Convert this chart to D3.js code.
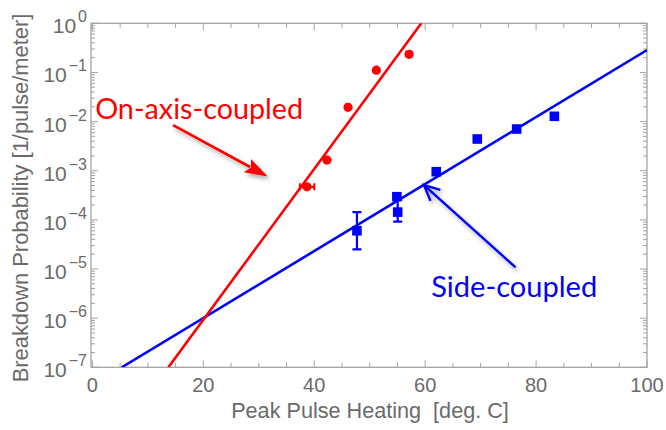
<!DOCTYPE html>
<html>
<head>
<meta charset="utf-8">
<script src="https://cdn.jsdelivr.net/npm/d3@7"></script>
<style>
  html, body { margin: 0; padding: 0; background: #ffffff; }
  svg { display: block; }
</style>
</head>
<body>
<svg id="chart" width="666" height="430"></svg>
<script>
// ---- measured breakdown rates ----
const onAxisX    = [38.7, 42.3, 46.1, 51.2, 57.1];
const onAxisY    = [4.7e-4, 1.65e-3, 1.95e-2, 0.111, 0.234];
const onAxisXErr = [1.3, 0, 0.35, 0.25, 0.45];

const sideX    = [47.7, 54.9, 55.05, 62.0, 69.4, 76.5, 83.3];
const sideY    = [6.0e-5, 2.96e-4, 1.44e-4, 9.55e-4, 4.42e-3, 7.06e-3, 1.28e-2];
const sideYLo  = [2.5e-5, null, 9.2e-5, null, null, null, null];
const sideYHi  = [1.44e-4, null, 2.55e-4, null, null, null, null];
const sideXErr = [0, 0, 0, 0, 0, 0.6, 0.6];

// exponential fits (end points)
const onAxisFitX = [13.7, 59.3];
const onAxisFitY = [1e-7, 1];
const sideFitX   = [5.3, 100];
const sideFitY   = [1e-7, 0.286];

// axes
const xTickValues = [0, 20, 40, 60, 80, 100];
const yExponents  = [0, -1, -2, -3, -4, -5, -6, -7];

const xTitle = "Peak Pulse Heating  [deg. C]";
const yTitle = "Breakdown Probability [1/pulse/meter]";

// annotations: label anchor, arrow tail and tip, in data units
const onAxisLabel = "On-axis-coupled";
const onAxisLabelPos = [0.5, 0.0111];
const onAxisArrow = [[14.55, 8.5e-3], [31.6, 7.6e-4]];
const sideLabel = "Side-coupled";
const sideLabelPos = [61.1, 2.73e-6];
const sideArrow = [[76.3, 1.08e-5], [59.8, 5.1e-4]];

// ---- layout ----
const plotLeft = 91, plotRight = 647, plotTop = 23.3, plotBottom = 367.3;
const axisGrey = "#a3a3a3", textGrey = "#6a6a6a";
const RED = "#ff0000", BLUE = "#0000ff";

const svg = d3.select("#chart");
const x = d3.scaleLinear().domain([-0.25, 100]).range([plotLeft, plotRight]);
const y = d3.scaleLog().domain([1e-7, 1]).range([plotBottom, plotTop]);

const defs = svg.append("defs");
defs.append("clipPath").attr("id", "plotClip")
  .append("rect").attr("x", plotLeft).attr("y", plotTop)
  .attr("width", plotRight - plotLeft).attr("height", plotBottom - plotTop);
const shadow = defs.append("filter").attr("id", "softShadow")
  .attr("x", "-20%").attr("y", "-20%").attr("width", "140%").attr("height", "160%");
shadow.append("feDropShadow").attr("dx", 2).attr("dy", 3)
  .attr("stdDeviation", 2.2).attr("flood-color", "#000").attr("flood-opacity", 0.35);

// ---- frame with inward ticks ----
const frame = svg.append("g");
frame.append("rect").attr("x", plotLeft).attr("y", plotTop)
  .attr("width", plotRight - plotLeft).attr("height", plotBottom - plotTop)
  .attr("fill", "none").attr("stroke", axisGrey).attr("stroke-width", 1.3);

const xMajor = d3.range(0, 101, 20);
const tickG = frame.append("g").attr("stroke", axisGrey).attr("stroke-width", 1);
d3.range(0, 101, 5).forEach(v => {
  const len = xMajor.includes(v) ? 7 : 4.5;
  const px = x(v);
  tickG.append("line").attr("x1", px).attr("x2", px).attr("y1", plotBottom).attr("y2", plotBottom - len);
  tickG.append("line").attr("x1", px).attr("x2", px).attr("y1", plotTop).attr("y2", plotTop + len);
});
for (let e = -7; e <= 0; e++) {
  const mults = e < 0 ? d3.range(1, 10) : [1];
  mults.forEach(m => {
    const v = m * Math.pow(10, e);
    const py = y(v);
    const len = m === 1 ? 7 : 4;
    tickG.append("line").attr("x1", plotLeft).attr("x2", plotLeft + len).attr("y1", py).attr("y2", py);
    tickG.append("line").attr("x1", plotRight).attr("x2", plotRight - len).attr("y1", py).attr("y2", py);
  });
}

// tick labels
const labelFont = "'Liberation Sans', Arial, sans-serif";
svg.append("g").selectAll("text").data(xTickValues).join("text")
  .attr("x", d => x(d)).attr("y", plotBottom + 25)
  .attr("text-anchor", "middle").attr("font-family", labelFont)
  .attr("font-size", 20).attr("fill", textGrey).text(d => d);

const yLab = svg.append("g").selectAll("text").data(yExponents).join("text")
  .attr("x", plotLeft - 4).attr("y", d => y(Math.pow(10, d)) + 10)
  .attr("text-anchor", "end").attr("font-family", labelFont).attr("fill", textGrey);
yLab.append("tspan").attr("font-size", 21).text("10");
yLab.append("tspan").attr("font-size", 16).attr("dx", 2).attr("dy", -11)
  .text(d => d === 0 ? "0" : "\u2212" + (-d));

// axis titles, sized to their measured span
function fitWidth(sel, target) {
  const w = sel.node().getComputedTextLength();
  sel.attr("font-size", parseFloat(sel.attr("font-size")) * target / w);
}
const xt = svg.append("text").attr("x", 370).attr("y", 418)
  .attr("text-anchor", "middle").attr("font-family", labelFont)
  .attr("font-size", 20).attr("fill", textGrey)
  .attr("xml:space", "preserve").text(xTitle);
fitWidth(xt, 278);
const yt = svg.append("text")
  .attr("transform", "translate(28,198) rotate(-90)")
  .attr("text-anchor", "middle").attr("font-family", labelFont)
  .attr("font-size", 20).attr("fill", textGrey).text(yTitle);
fitWidth(yt, 369);

// ---- fit lines ----
const plot = svg.append("g").attr("clip-path", "url(#plotClip)");
const line = d3.line().x(d => x(d[0])).y(d => y(d[1]));
plot.append("path").datum(d3.zip(sideFitX, sideFitY))
  .attr("d", line).attr("fill", "none").attr("stroke", BLUE).attr("stroke-width", 2.6);
plot.append("path").datum(d3.zip(onAxisFitX, onAxisFitY))
  .attr("d", line).attr("fill", "none").attr("stroke", RED).attr("stroke-width", 2.6);

// ---- side-coupled points ----
const side = d3.range(sideX.length).map(i => ({
  x: sideX[i], y: sideY[i], lo: sideYLo[i], hi: sideYHi[i], xe: sideXErr[i]
}));
const sg = plot.append("g").attr("stroke", BLUE).attr("fill", BLUE);
side.forEach(d => {
  const cx = x(d.x), cy = y(d.y);
  if (d.lo != null) {
    sg.append("line").attr("x1", cx).attr("x2", cx).attr("y1", y(d.lo)).attr("y2", y(d.hi)).attr("stroke-width", 2.2);
    [d.lo, d.hi].forEach(v => sg.append("line").attr("x1", cx - 4.5).attr("x2", cx + 4.5)
      .attr("y1", y(v)).attr("y2", y(v)).attr("stroke-width", 2.2));
  }
  if (d.xe > 0) {
    sg.append("line").attr("x1", x(d.x - d.xe)).attr("x2", x(d.x + d.xe))
      .attr("y1", cy).attr("y2", cy).attr("stroke-width", 2.2);
    [d.x - d.xe, d.x + d.xe].forEach(v => sg.append("line").attr("x1", x(v)).attr("x2", x(v))
      .attr("y1", cy - 4).attr("y2", cy + 4).attr("stroke-width", 2));
  }
  sg.append("rect").attr("x", cx - 4.8).attr("y", cy - 4.8)
    .attr("width", 9.6).attr("height", 9.6).attr("stroke", "none");
});

// ---- on-axis points ----
const rg = plot.append("g").attr("stroke", RED).attr("fill", RED);
onAxisX.forEach((vx, i) => {
  const cx = x(vx), cy = y(onAxisY[i]), xe = onAxisXErr[i];
  if (xe > 0) {
    rg.append("line").attr("x1", x(vx - xe)).attr("x2", x(vx + xe))
      .attr("y1", cy).attr("y2", cy).attr("stroke-width", 2.2);
    [vx - xe, vx + xe].forEach(v => rg.append("line").attr("x1", x(v)).attr("x2", x(v))
      .attr("y1", cy - 3.5).attr("y2", cy + 3.5).attr("stroke-width", 2));
  }
  rg.append("circle").attr("cx", cx).attr("cy", cy).attr("r", 4.6).attr("stroke", "none");
});

// ---- annotations ----
const annFont = "Lato, 'Open Sans', sans-serif";
const t1 = svg.append("text").attr("x", x(onAxisLabelPos[0])).attr("y", y(onAxisLabelPos[1]))
  .attr("font-family", annFont).attr("font-size", 28).attr("fill", RED).text(onAxisLabel);
fitWidth(t1, 208);
const t2 = svg.append("text").attr("x", x(sideLabelPos[0])).attr("y", y(sideLabelPos[1]))
  .attr("font-family", annFont).attr("font-size", 28).attr("fill", BLUE).text(sideLabel);
fitWidth(t2, 166);

// red arrow with a filled head
(function () {
  const [a, b] = onAxisArrow.map(p => [x(p[0]), y(p[1])]);
  const ang = Math.atan2(b[1] - a[1], b[0] - a[0]);
  const hl = 23, hw = 7.5;
  const base = [b[0] - hl * Math.cos(ang), b[1] - hl * Math.sin(ang)];
  const g = svg.append("g").attr("filter", "url(#softShadow)");
  g.append("line").attr("x1", a[0]).attr("y1", a[1])
    .attr("x2", base[0] + 3 * Math.cos(ang)).attr("y2", base[1] + 3 * Math.sin(ang))
    .attr("stroke", RED).attr("stroke-width", 2.6);
  const px = -Math.sin(ang), py = Math.cos(ang);
  g.append("path").attr("fill", RED)
    .attr("d", `M${b[0]},${b[1]} L${base[0] + hw * px},${base[1] + hw * py} L${base[0] + 4 * Math.cos(ang)},${base[1] + 4 * Math.sin(ang)} L${base[0] - hw * px},${base[1] - hw * py} Z`);
})();

// blue arrow with an open head
(function () {
  const [a, b] = sideArrow.map(p => [x(p[0]), y(p[1])]);
  const ang = Math.atan2(b[1] - a[1], b[0] - a[0]);
  const wl = 17, spread = 0.45;
  const w1 = [b[0] - wl * Math.cos(ang - spread), b[1] - wl * Math.sin(ang - spread)];
  const w2 = [b[0] - wl * Math.cos(ang + spread), b[1] - wl * Math.sin(ang + spread)];
  const g = svg.append("g").attr("filter", "url(#softShadow)")
    .attr("stroke", BLUE).attr("fill", "none").attr("stroke-width", 2.4);
  g.append("line").attr("x1", a[0]).attr("y1", a[1]).attr("x2", b[0]).attr("y2", b[1]);
  g.append("path").attr("stroke-linejoin", "miter")
    .attr("d", `M${w1[0]},${w1[1]} L${b[0]},${b[1]} L${w2[0]},${w2[1]}`);
})();
</script>
</body>
</html>
